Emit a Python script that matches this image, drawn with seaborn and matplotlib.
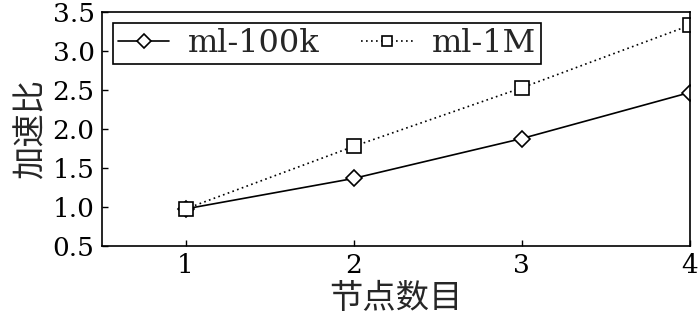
import pandas as pd
import matplotlib
matplotlib.use("Agg")
import matplotlib.pyplot as plt
import seaborn as sns

nodes = [1, 2, 3, 4]
ml_100k = [0.98, 1.37, 1.88, 2.47]
ml_1m = [0.98, 1.78, 2.53, 3.33]
yticks = [0.5, 1.0, 1.5, 2.0, 2.5, 3.0, 3.5]

df = pd.DataFrame({
    "节点数目": nodes * 2,
    "加速比": ml_100k + ml_1m,
    "数据集": ["ml-100k"] * 4 + ["ml-1M"] * 4,
})

sns.set_style("ticks")
plt.rcParams['font.family'] = ['DejaVu Serif', 'Noto Sans CJK SC']
plt.rcParams['axes.unicode_minus'] = False

fig, ax = plt.subplots(figsize=(7, 3.2), dpi=100)
sns.lineplot(data=df, x="节点数目", y="加速比", hue="数据集", style="数据集",
             markers={"ml-100k": "D", "ml-1M": "s"},
             dashes={"ml-100k": "", "ml-1M": (1, 2)},
             palette={"ml-100k": "black", "ml-1M": "black"},
             markerfacecolor="white", markeredgecolor="black",
             markeredgewidth=1.2, linewidth=1.2, ax=ax)
for line in ax.lines:
    if line.get_marker() == "D":
        line.set_markersize(8)
    else:
        line.set_markersize(10)

ax.set_xlim(0.5, 4)
ax.set_ylim(0.5, 3.5)
ax.set_xticks(nodes)
ax.set_yticks(yticks)
ax.set_yticklabels([f"{v:.1f}" for v in yticks])
ax.tick_params(direction="in", labelsize=19, length=4, width=1, colors="black", pad=5)
ax.set_xlabel("节点数目", fontsize=24, labelpad=3)
ax.set_ylabel("加速比", fontsize=24, labelpad=4)
for s in ax.spines.values():
    s.set_linewidth(1.2)
    s.set_color("black")

handles, labels = ax.get_legend_handles_labels()
for h in handles:
    h.set_markerfacecolor("white")
    h.set_markeredgecolor("black")
    h.set_markeredgewidth(1.2)
    h.set_markersize(7)
leg = ax.legend(handles, labels, loc="upper left", ncol=2, fontsize=23,
                frameon=True, fancybox=False, edgecolor="black",
                borderpad=0.15, borderaxespad=0, handlelength=1.6,
                columnspacing=1.3, handletextpad=0.6,
                bbox_to_anchor=(0.02, 0.953))
leg.get_frame().set_linewidth(1.2)
leg.get_frame().set_alpha(1)

fig.subplots_adjust(left=0.145, right=0.985, top=0.962, bottom=0.23)
fig.savefig("out.png", dpi=100)
